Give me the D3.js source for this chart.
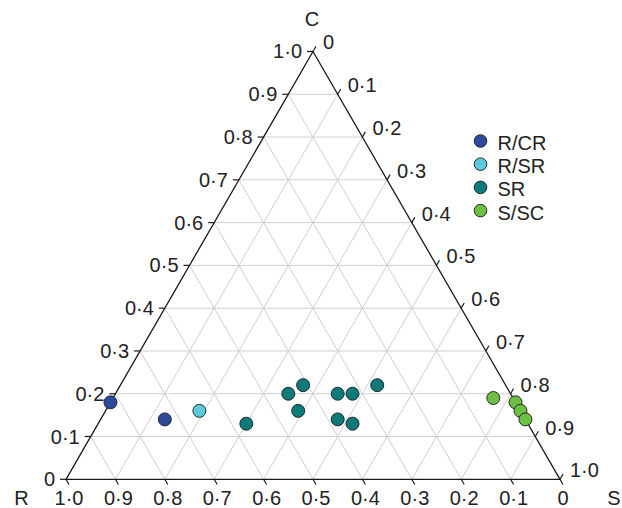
<!DOCTYPE html>
<html>
<head>
<meta charset="utf-8">
<script src="https://cdn.jsdelivr.net/npm/d3@7/dist/d3.min.js"></script>
<style>
  html, body { margin: 0; padding: 0; background: #fff; }
  svg { display: block; }
  text { font-family: "Liberation Sans", Arial, Helvetica, sans-serif; fill: #222; }
</style>
</head>
<body>
<svg id="chart" width="622" height="508"></svg>
<script>
// Daten: Anteile [R, S, C] je Gruppe
const groups = ['R/CR', 'R/SR', 'SR', 'S/SC'];
const ptsRCR = [[0.82, 0.00, 0.18], [0.73, 0.13, 0.14]];
const ptsRSR = [[0.65, 0.19, 0.16]];
const ptsSR = [
  [0.57, 0.30, 0.13], [0.45, 0.35, 0.20], [0.41, 0.37, 0.22],
  [0.45, 0.39, 0.16], [0.35, 0.45, 0.20], [0.32, 0.48, 0.20],
  [0.26, 0.52, 0.22], [0.38, 0.48, 0.14], [0.355, 0.515, 0.13]
];
const ptsSSC = [[0.04, 0.77, 0.19], [0.00, 0.82, 0.18], [0.00, 0.84, 0.16], [0.00, 0.86, 0.14]];
const tickValues = [0, 0.1, 0.2, 0.3, 0.4, 0.5, 0.6, 0.7, 0.8, 0.9, 1.0];

const groupPts = [ptsRCR, ptsRSR, ptsSR, ptsSSC];
const colors = ['#2e4a9c', '#5ec9dd', '#0d7a7a', '#6bbf43'];

const svg = d3.select('#chart');
const x0 = 66, y0 = 479.3, L = 494;
const H = L * Math.sqrt(3) / 2;
const FS = 20;

// Skalen: horizontal (S + C/2), vertikal C
const sx = d3.scaleLinear().domain([0, 1]).range([x0, x0 + L]);
const sy = d3.scaleLinear().domain([0, 1]).range([y0, y0 - H]);

function pos(r, s, c) {
  const t = r + s + c;
  s /= t; c /= t;
  return [sx(s + c / 2), sy(c)];
}

const fmt = v => v === 0 ? '0' : d3.format('.1f')(v).replace('.', '·');
const line = d3.line();

// Gitter
const grid = svg.append('g').attr('fill', 'none').attr('stroke', '#cfcfcf').attr('stroke-width', 1);
tickValues.filter(v => v > 0 && v < 1).forEach(v => {
  grid.append('path').attr('d', line([pos(1 - v, 0, v), pos(0, 1 - v, v)]));   // C konstant
  grid.append('path').attr('d', line([pos(1 - v, v, 0), pos(0, v, 1 - v)]));   // S konstant
  grid.append('path').attr('d', line([pos(v, 1 - v, 0), pos(v, 0, 1 - v)]));   // R konstant
});

// Rahmen
svg.append('path')
  .attr('d', line([pos(1, 0, 0), pos(0, 1, 0), pos(0, 0, 1)]) + 'Z')
  .attr('fill', 'none').attr('stroke', '#1a1a1a').attr('stroke-width', 1.3);

// Achsen-Ticks und Beschriftungen
const axes = svg.append('g');
const tk = 6, dx = tk * 0.5, dy = tk * Math.sqrt(3) / 2;
tickValues.forEach(v => {
  // unten: R
  const [bx, by] = pos(v, 1 - v, 0);
  axes.append('path').attr('d', line([[bx, by], [bx + dx, by + dy]]))
    .attr('stroke', '#1a1a1a').attr('stroke-width', 1.2);
  axes.append('text').attr('x', bx + 3).attr('y', by + 26)
    .attr('text-anchor', 'middle').attr('font-size', FS).text(fmt(v));

  // links: C
  const [lx, ly] = pos(1 - v, 0, v);
  axes.append('path').attr('d', line([[lx, ly], [lx - tk, ly]]))
    .attr('stroke', '#1a1a1a').attr('stroke-width', 1.2);
  axes.append('text').attr('x', lx - 11).attr('y', ly).attr('dy', '0.35em')
    .attr('text-anchor', 'end').attr('font-size', FS).text(fmt(v));

  // rechts: S
  const [rx, ry] = pos(0, v, 1 - v);
  axes.append('path').attr('d', line([[rx, ry], [rx + dx, ry - dy]]))
    .attr('stroke', '#1a1a1a').attr('stroke-width', 1.2);
  axes.append('text').attr('x', rx + 10).attr('y', ry - 9).attr('dy', '0.35em')
    .attr('text-anchor', 'start').attr('font-size', FS).text(fmt(v));
});

// Eckbeschriftungen
const [tx, ty] = pos(0, 0, 1);
svg.append('text').attr('x', tx - 1).attr('y', ty - 25).attr('text-anchor', 'middle')
  .attr('font-size', FS).text('C');
svg.append('text').attr('x', 21.5).attr('y', y0 + 26).attr('text-anchor', 'middle')
  .attr('font-size', FS).text('R');
svg.append('text').attr('x', 614).attr('y', y0 + 26).attr('text-anchor', 'middle')
  .attr('font-size', FS).text('S');

// Punkte
const pts = svg.append('g');
groupPts.forEach((arr, gi) => {
  pts.selectAll(null).data(arr).join('circle')
    .attr('cx', d => pos(...d)[0])
    .attr('cy', d => pos(...d)[1])
    .attr('r', 6.5)
    .attr('fill', colors[gi])
    .attr('stroke', '#1a1a1a').attr('stroke-width', 0.9);
});

// Legende
const leg = svg.append('g').attr('transform', 'translate(480.5,141)');
groups.forEach((g, i) => {
  const row = leg.append('g').attr('transform', `translate(0,${i * 23.2})`);
  row.append('circle').attr('r', 6.3).attr('fill', colors[i])
    .attr('stroke', '#1a1a1a').attr('stroke-width', 0.9);
  row.append('text').attr('x', 17).attr('y', 2).attr('dy', '0.35em')
    .attr('font-size', FS).text(g);
});
</script>
</body>
</html>
